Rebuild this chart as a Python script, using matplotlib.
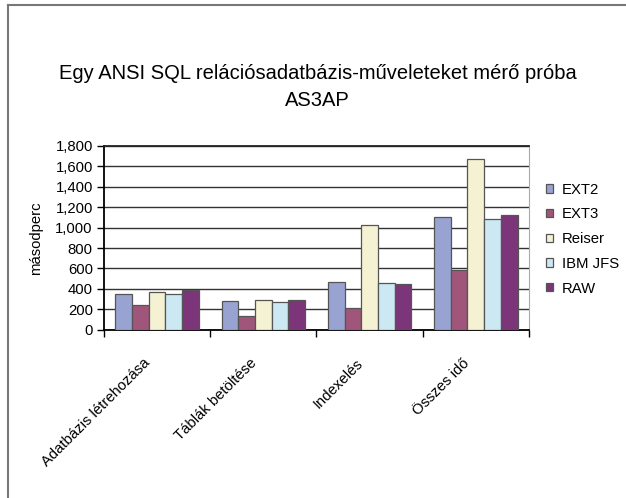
import numpy as np
import matplotlib.pyplot as plt
from matplotlib.lines import Line2D

plt.rcParams['font.family'] = ['Liberation Sans', 'DejaVu Sans']

# adatok (másodperc)
kategoriak = ['Adatbázis létrehozása', 'Táblák betöltése', 'Indexelés', 'Összes idő']
sorozatok = ['EXT2', 'EXT3', 'Reiser', 'IBM JFS', 'RAW']
ext2 = [347, 285, 465, 1103]
ext3 = [239, 137, 216, 583]
reiser = [373, 288, 1028, 1676]
ibm_jfs = [347, 272, 458, 1087]
raw = [393, 295, 445, 1119]
szinek = ['#99A3D1', '#A0557A', '#F5F1D3', '#CCE8F3', '#7D3579']

ertekek = [ext2, ext3, reiser, ibm_jfs, raw]

fig = plt.figure(figsize=(6.26, 4.98), dpi=100)
ax = fig.add_axes([0.166, 0.338, 0.679, 0.369])

x = np.arange(len(kategoriak))
w = 0.157
for i, (nev, v) in enumerate(zip(sorozatok, ertekek)):
    ax.bar(x + (i - 2) * w, v, w, color=szinek[i], edgecolor='#555555',
           linewidth=0.9, label=nev, zorder=3)

ax.set_xlim(-0.5, 3.5)
ax.set_ylim(0, 1800)
ax.set_yticks(np.arange(0, 1801, 200))
ax.set_yticklabels(['{:,}'.format(v) for v in range(0, 1801, 200)], fontsize=10.7)
ax.yaxis.grid(True, color='#333333', linewidth=1.0, zorder=0)
ax.tick_params(axis='y', length=5, width=1, direction='out', pad=3)

# kategória címkék középen (kissé balra), osztás a határokon
ax.set_xticks(x - 0.13)
ax.set_xticklabels(kategoriak, rotation=45, ha='right', rotation_mode='anchor', fontsize=10.7)
ax.tick_params(axis='x', which='major', length=0, pad=19)
ax.set_xticks(np.arange(-0.5, 4.0, 1.0), minor=True)
ax.tick_params(axis='x', which='minor', length=5, width=1, direction='out')

for s in ['left', 'bottom']:
    ax.spines[s].set_color('black')
    ax.spines[s].set_linewidth(1.3)
ax.spines['top'].set_color('#222222')
ax.spines['top'].set_linewidth(1.3)
ax.spines['right'].set_color('#AAAAAA')
ax.spines['right'].set_linewidth(0.8)

ax.set_ylabel('másodperc', fontsize=10.7, labelpad=9)

fig.text(0.507, 0.853, 'Egy ANSI SQL relációsadatbázis-műveleteket mérő próba',
         ha='center', va='center', fontsize=14.5)
fig.text(0.507, 0.799, 'AS3AP', ha='center', va='center', fontsize=14.5)

ax.legend(loc='upper left', bbox_to_anchor=(0.862, 0.645), bbox_transform=fig.transFigure,
          frameon=False, fontsize=10.7, handlelength=0.5, handleheight=0.5,
          handletextpad=0.6, labelspacing=0.72, borderaxespad=0)

# külső keret (bal és felső)
fig.add_artist(Line2D([0.0128, 0.0128], [0, 0.990], color='#777777', linewidth=1.5))
fig.add_artist(Line2D([0.0128, 1.0], [0.990, 0.990], color='#777777', linewidth=1.5))

fig.savefig('out.png', dpi=100)
